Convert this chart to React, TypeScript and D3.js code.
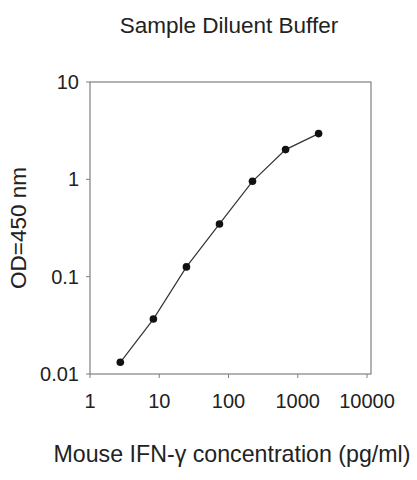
import React, { useMemo } from 'react';
import * as d3 from 'd3';

const concentrations = [2.74, 8.23, 24.7, 74.1, 222, 667, 2000];
const odValues = [0.0132, 0.0367, 0.126, 0.348, 0.955, 2.02, 2.95];
const xTicks = [1, 10, 100, 1000, 10000];
const yTicks = [0.01, 0.1, 1, 10];
const yTickLabels = ['0.01', '0.1', '1', '10'];

export default function App() {
  const width = 417;
  const height = 480;
  const MARGIN = { top: 82, right: 47, bottom: 106, left: 90 };
  const FONT = 'Liberation Sans, Arial, sans-serif';

  const boundsWidth = width - MARGIN.left - MARGIN.right;
  const boundsHeight = height - MARGIN.top - MARGIN.bottom;

  const xScale = useMemo(
    () => d3.scaleLog().domain([1, 10000]).range([0, 277]),
    []
  );
  const yScale = useMemo(
    () => d3.scaleLog().domain([0.01, 10]).range([boundsHeight, 0]),
    [boundsHeight]
  );

  const points = concentrations.map((c, i) => ({ x: c, y: odValues[i] }));
  const line = d3
    .line<{ x: number; y: number }>()
    .x((d) => xScale(d.x))
    .y((d) => yScale(d.y))(points);

  return (
    <svg
      width={width}
      height={height}
      style={{ position: 'absolute', left: 0, top: 0, background: '#fff' }}
      fontFamily={FONT}
    >
      <text x={229} y={33} textAnchor="middle" fontSize={22.5} fill="#222">
        Sample Diluent Buffer
      </text>

      <g transform={`translate(${MARGIN.left},${MARGIN.top})`}>
        {/* frame */}
        <rect
          x={0}
          y={0}
          width={boundsWidth + 1}
          height={boundsHeight}
          fill="none"
          stroke="#808080"
          strokeWidth={1.2}
        />

        {yTicks.map((t, i) => (
          <g key={t}>
            <line
              x1={-4}
              x2={0}
              y1={yScale(t)}
              y2={yScale(t)}
              stroke="#808080"
            />
            <text
              x={-11}
              y={yScale(t)}
              textAnchor="end"
              dominantBaseline="central"
              fontSize={20}
              fill="#222"
            >
              {yTickLabels[i]}
            </text>
          </g>
        ))}

        {xTicks.map((t) => (
          <g key={t}>
            <line
              x1={xScale(t)}
              x2={xScale(t)}
              y1={boundsHeight}
              y2={boundsHeight + 4}
              stroke="#808080"
            />
            <text
              x={xScale(t)}
              y={boundsHeight + 34}
              textAnchor="middle"
              fontSize={20}
              fill="#222"
            >
              {t}
            </text>
          </g>
        ))}

        <path d={line ?? ''} fill="none" stroke="#333" strokeWidth={1.2} />
        {points.map((p, i) => (
          <circle key={i} cx={xScale(p.x)} cy={yScale(p.y)} r={3.8} fill="#111" />
        ))}
      </g>

      <text
        transform="translate(26,228) rotate(-90)"
        textAnchor="middle"
        fontSize={22.5}
        fill="#222"
      >
        OD=450 nm
      </text>

      <text x={232} y={462} textAnchor="middle" fontSize={23.2} fill="#222">
        Mouse IFN-γ concentration (pg/ml)
      </text>
    </svg>
  );
}
